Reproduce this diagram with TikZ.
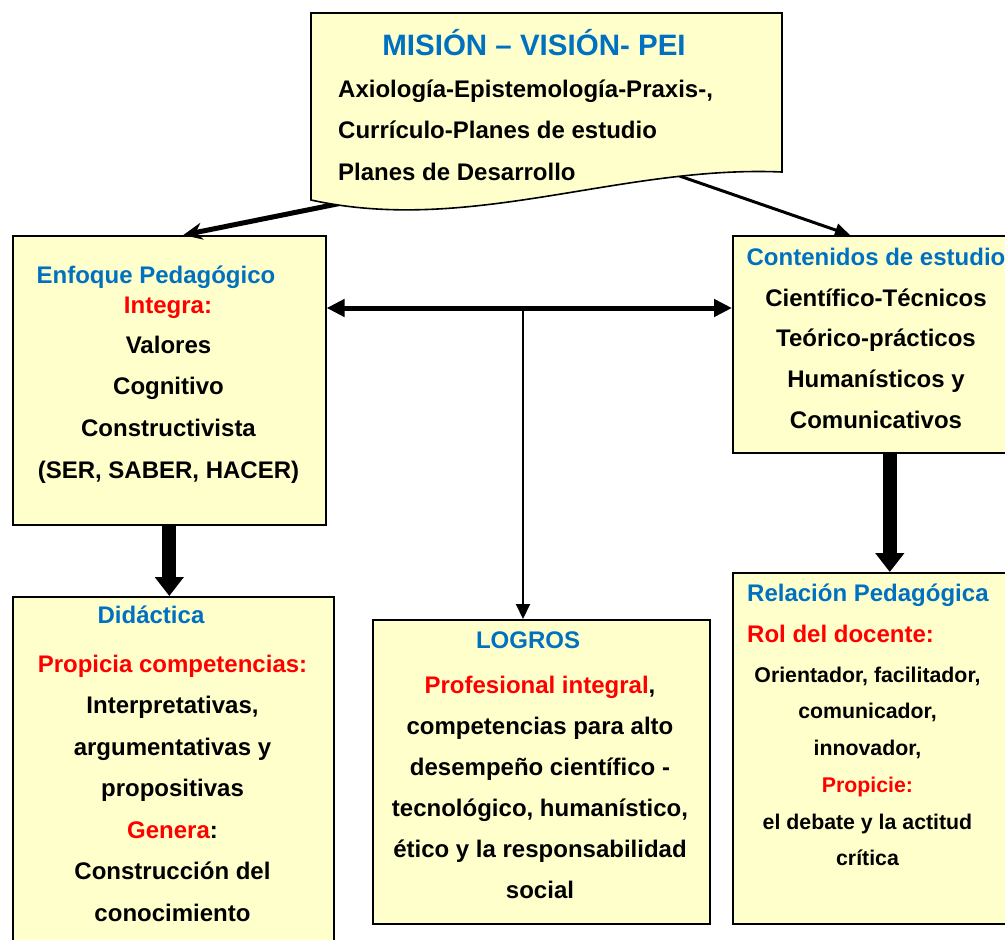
\documentclass[tikz,border=0pt]{standalone}
\usepackage{fontspec}
\setmainfont{Liberation Sans}
\usetikzlibrary{arrows.meta,calc}
\definecolor{boxfill}{HTML}{FFFFCC}
\definecolor{headblue}{HTML}{0070C0}
\definecolor{hotred}{HTML}{FF0000}
\newcommand\mytop{\rule{0pt}{24pt}}
\newcommand\mytopsmall{\rule{0pt}{21pt}}
\begin{document}
\begin{tikzpicture}[x=1pt,y=-1pt,
  boxshape/.style={draw=black, line width=1.6pt, fill=boxfill, rectangle, inner sep=0pt, anchor=north west},
  head/.style={font=\fontsize{24}{28}\selectfont\bfseries, text=headblue, inner sep=0pt, anchor=base},
  redhead/.style={font=\fontsize{24}{28}\selectfont\bfseries, text=hotred, inner sep=0pt, anchor=base},
  body/.style={align=center, inner sep=0pt, anchor=north, font=\fontsize{24}{#1}\selectfont\bfseries},
  thinarrow/.style={draw=black, line width=3pt, -{Triangle[length=15pt,width=13pt]}},
  blockarrow/.style={draw=black, line width=14pt, -{Triangle[length=19pt,width=28pt]}}
]
\useasboundingbox (0,0) rectangle (1005,940);
\fill[white] (0,0) rectangle (1005,940);
\clip (0,0) rectangle (1005,940);

% boxes
\node[boxshape, minimum width=313pt, minimum height=289pt] (enfoque) at (12,235) {};
\node[boxshape, minimum width=280pt, minimum height=217pt] (contenidos) at (732,235) {};
\node[boxshape, minimum width=321pt, minimum height=370pt] (didactica) at (12,596) {};
\node[boxshape, minimum width=337pt, minimum height=304pt] (logros) at (372,619) {};
\node[boxshape, minimum width=280pt, minimum height=351pt] (relacion) at (732,572) {};

% arrows leaving the top document (drawn first, their start hidden under it)
\coordinate (m1) at (352,201);
\coordinate (m2) at (668,172);
\draw[draw=black, line width=5pt, -{Stealth[length=19pt,width=17pt]}] (m1) -- ([xshift=14pt]enfoque.north);
\draw[thinarrow] (m2) -- ([xshift=118pt]contenidos.north west);

% top document shape
\draw[line width=1.6pt, fill=boxfill] (311,13) -- (782,13) -- (782,172)
  .. controls (620,165) and (470,235) .. (311,200) -- cycle;
\node[font=\fontsize{29.5}{34}\selectfont\bfseries, text=headblue, inner sep=0pt, anchor=base] (mtitle) at (534,55) {MISIÓN – VISIÓN- PEI};
\node[align=left, inner sep=0pt, anchor=north west, font=\fontsize{24}{41.5}\selectfont\bfseries] (mbody) at (338,73)
  {\mytop Axiología-Epistemología-Praxis-,\\ Currículo-Planes de estudio\\ Planes de Desarrollo};

% texts: Enfoque
\node[head] (enfh) at (156,283) {Enfoque Pedagógico};
\node[redhead] (enfr) at (168,313) {Integra:};
\node[body=41.7] (enfb) at (168.5,329) {\mytop Valores\\ Cognitivo\\ Constructivista\\ (SER, SABER, HACER)};

% Contenidos
\node[head] (conh) at (876,265) {Contenidos de estudio};
\node[body=40.7] (conb) at (876,282) {\mytop Científico-Técnicos\\ Teórico-prácticos\\ Humanísticos y\\ Comunicativos};

% Didactica
\node[head] (didh) at (151,623) {Didáctica};
\node[body=41.5] (didb) at (172.5,648) {\mytop{\color{hotred}Propicia competencias:}\\ Interpretativas,\\ argumentativas y\\ propositivas\\ {\color{hotred}Genera}:\\ Construcción del\\ conocimiento};

% Logros
\node[head] (logh) at (528,648) {LOGROS};
\node[body=41] (logb) at (540,669) {\mytop{\color{hotred}Profesional integral},\\ competencias para alto\\ desempeño científico -\\ tecnológico, humanístico,\\ ético y la responsabilidad\\ social};

% Relacion
\node[head, anchor=base west] (relh) at (747,601) {Relación Pedagógica};
\node[redhead, anchor=base west] (relr) at (747,642) {Rol del docente:};
\node[align=center, inner sep=0pt, anchor=north, font=\fontsize{21.3}{36.7}\selectfont\bfseries] (relb) at (867.5,661)
  {\mytopsmall Orientador, facilitador,\\ comunicador,\\ innovador,\\ {\color{hotred}Propicie:}\\ el debate y la actitud\\ crítica};

% connectors between boxes
\coordinate (hub) at (523,308);
\draw[draw=black, line width=5pt, {Triangle[length=18pt,width=17pt]}-{Triangle[length=18pt,width=17pt]}]
  (enfoque.east |- hub) -- (contenidos.west |- hub);
\draw[draw=black, line width=2pt, -{Triangle[length=15pt,width=14pt]}] (hub) -- (hub |- logros.north);
\draw[blockarrow] (enfoque.south) -- (enfoque.south |- didactica.north);
\draw[blockarrow] ([xshift=17pt]contenidos.south) -- ([xshift=17pt]contenidos.south |- relacion.north);
\end{tikzpicture}
\end{document}
